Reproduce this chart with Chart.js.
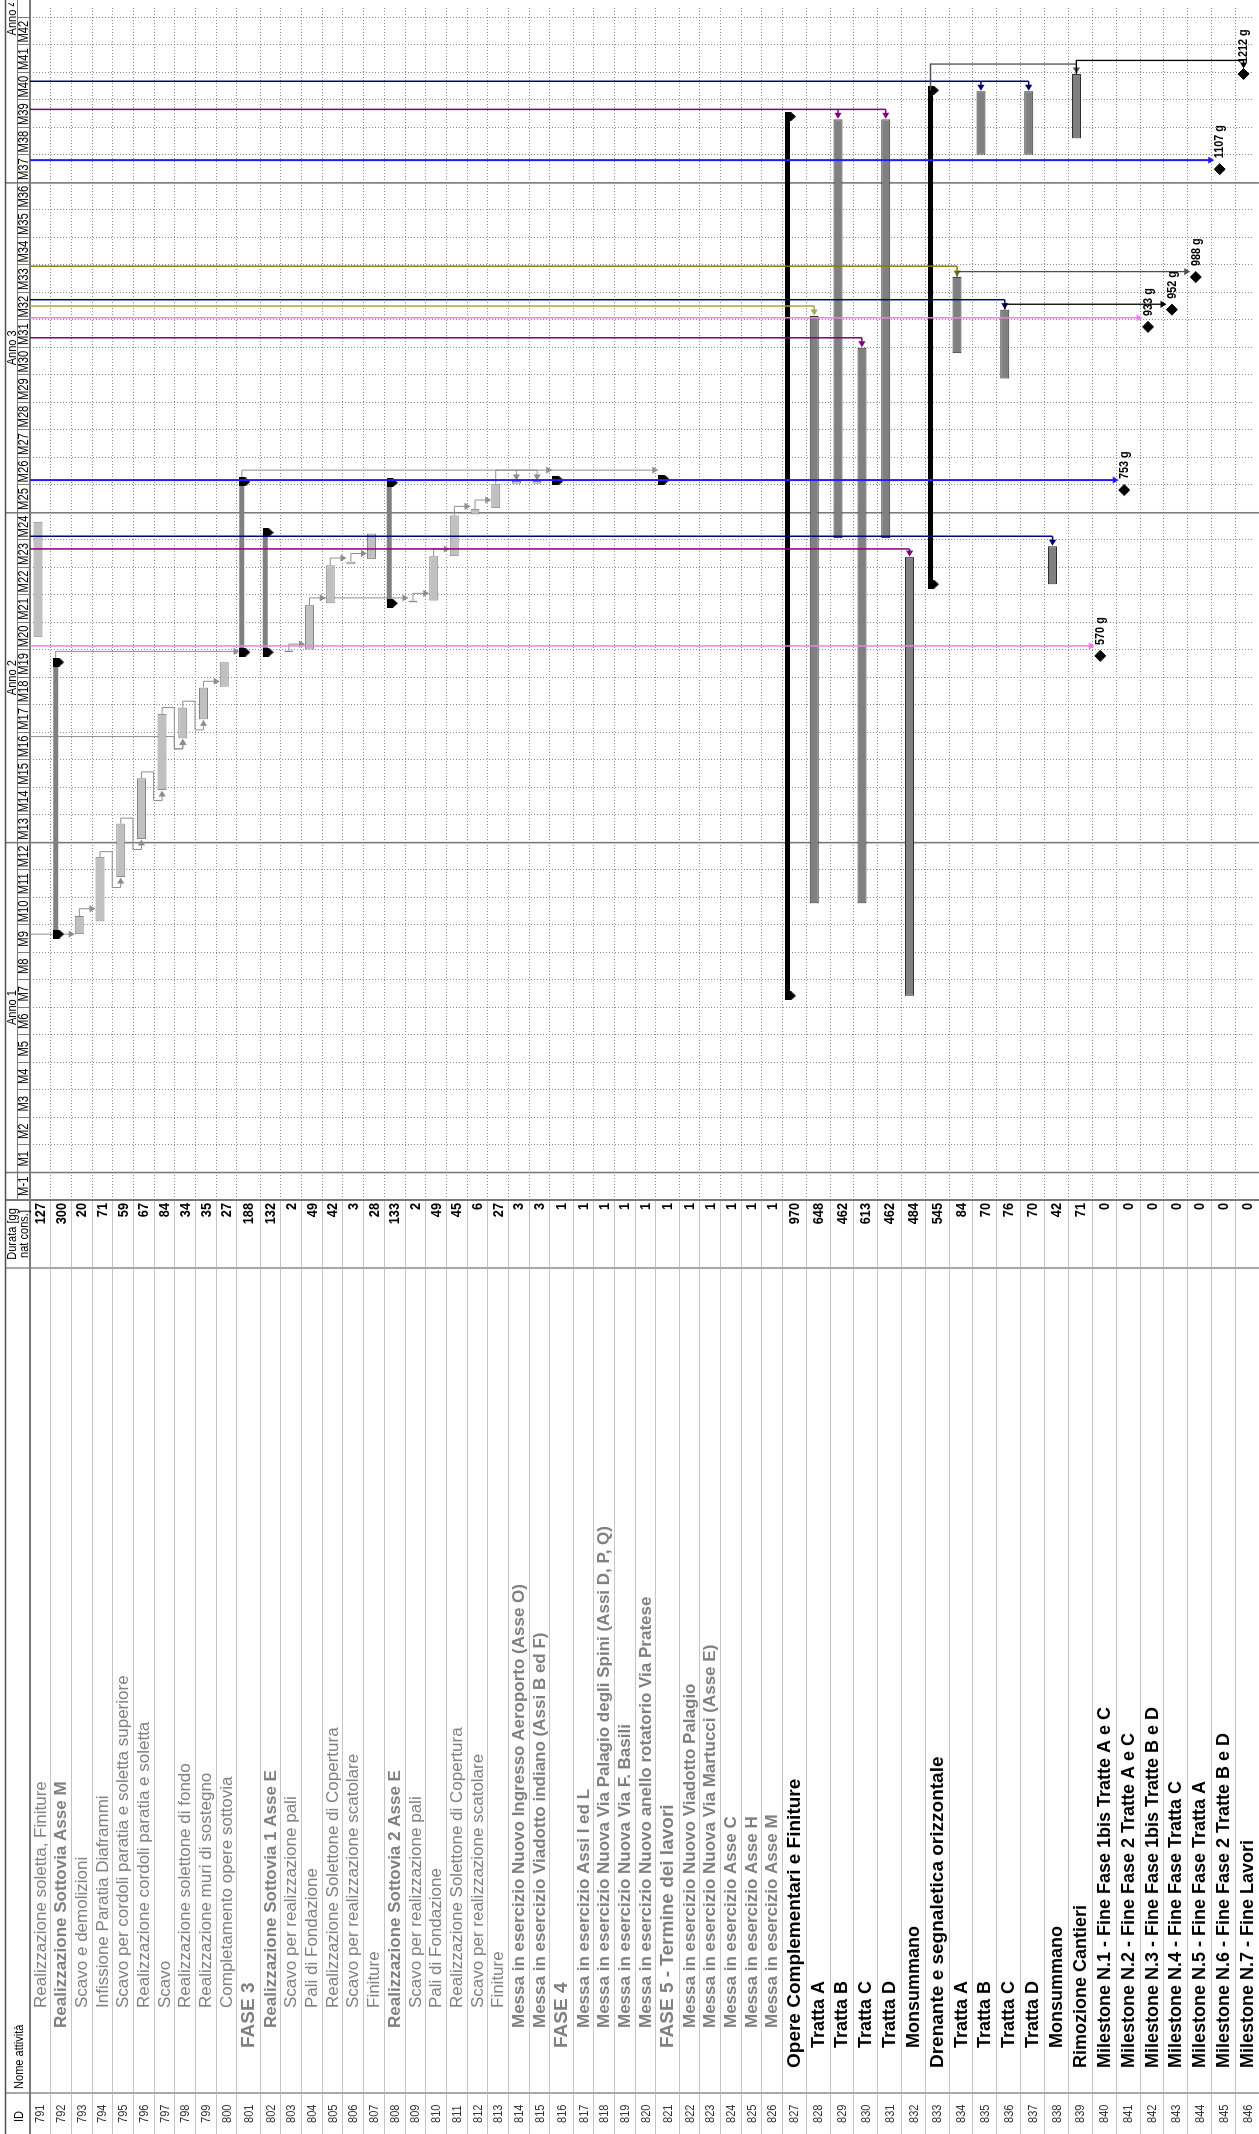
<!DOCTYPE html>
<html>
<head>
<meta charset="utf-8">
<script src="https://cdn.jsdelivr.net/npm/chart.js@4"></script>
<style>
html, body { margin: 0; padding: 0; background: #fff; overflow: hidden; width: 1259px; height: 2134px; }
#wrap { position: absolute; left: 0; top: 0; width: 2134px; height: 1259px;
        transform-origin: 0 0; transform: translate(0, 2134px) rotate(-90deg); }
</style>
</head>
<body>
<div id="wrap"><canvas id="gantt" width="2134" height="1259"></canvas></div>
<script>
// giorni per mese sulla scala dei tempi
const MONTH = 30.33;

const ids = [791, 792, 793, 794, 795, 796, 797, 798, 799, 800,
  801, 802, 803, 804, 805, 806, 807, 808, 809, 810, 811, 812, 813, 814, 815,
  816, 817, 818, 819, 820, 821, 822, 823, 824, 825, 826,
  827, 828, 829, 830, 831, 832, 833, 834, 835, 836, 837, 838, 839,
  840, 841, 842, 843, 844, 845, 846];

const names = [
  "Realizzazione soletta, Finiture",
  "Realizzazione Sottovia Asse M",
  "Scavo e demolizioni",
  "Infissione Paratia Diaframmi",
  "Scavo per cordoli paratia e soletta superiore",
  "Realizzazione cordoli paratia e soletta",
  "Scavo",
  "Realizzazione solettone di fondo",
  "Realizzazione muri di sostegno",
  "Completamento opere sottovia",
  "FASE 3",
  "Realizzazione Sottovia 1 Asse E",
  "Scavo per realizzazione pali",
  "Pali di Fondazione",
  "Realizzazione Solettone di Copertura",
  "Scavo per realizzazione scatolare",
  "Finiture",
  "Realizzazione Sottovia 2 Asse E",
  "Scavo per realizzazione pali",
  "Pali di Fondazione",
  "Realizzazione Solettone di Copertura",
  "Scavo per realizzazione scatolare",
  "Finiture",
  "Messa in esercizio Nuovo Ingresso Aeroporto (Asse O)",
  "Messa in esercizio Viadotto indiano (Assi B ed F)",
  "FASE 4",
  "Messa in esercizio Assi I ed L",
  "Messa in esercizio Nuova Via Palagio degli Spini (Assi D, P, Q)",
  "Messa in esercizio Nuova Via F. Basili",
  "Messa in esercizio Nuovo anello rotatorio Via Pratese",
  "FASE 5 - Termine dei lavori",
  "Messa in esercizio Nuovo Viadotto Palagio",
  "Messa in esercizio Nuova Via Martucci (Asse E)",
  "Messa in esercizio Asse C",
  "Messa in esercizio Asse H",
  "Messa in esercizio Asse M",
  "Opere Complementari e Finiture",
  "Tratta A", "Tratta B", "Tratta C", "Tratta D", "Monsummano",
  "Drenante e segnaletica orizzontale",
  "Tratta A", "Tratta B", "Tratta C", "Tratta D", "Monsummano",
  "Rimozione Cantieri",
  "Milestone N.1 - Fine Fase 1bis Tratte A e C",
  "Milestone N.2 - Fine Fase 2 Tratte A e C",
  "Milestone N.3 - Fine Fase 1bis Tratte B e D",
  "Milestone N.4 - Fine Fase Tratta C",
  "Milestone N.5 - Fine Fase Tratta A",
  "Milestone N.6 - Fine Fase 2 Tratte B e D",
  "Milestone N.7 - Fine Lavori"
];

// durata in giorni naturali consecutivi
const durations = [127, 300, 20, 71, 59, 67, 84, 34, 35, 27,
  188, 132, 2, 49, 42, 3, 28, 133, 2, 49, 45, 6, 27, 3, 3,
  1, 1, 1, 1, 1, 1, 1, 1, 1, 1, 1,
  970, 648, 462, 613, 462, 484, 545, 84, 70, 76, 70, 42, 71,
  0, 0, 0, 0, 0, 0, 0];

// giorno di inizio (giorno 0 = inizio M1)
const starts = [591, 263, 263, 277, 326, 368, 422, 479, 500, 536,
  574, 574, 574, 577, 628, 671, 677, 628, 629, 631, 680, 726, 733, 760, 760,
  763, 763, 763, 763, 763, 764, 764, 764, 764, 764, 764,
  195, 297, 700, 297, 700, 195, 649, 904, 1123, 876, 1123, 649, 1141,
  570, 753, 933, 952, 988, 1107, 1212];

const outline = [4, 3, 4, 4, 4, 4, 4, 4, 4, 4,
  2, 3, 4, 4, 4, 4, 4, 3, 4, 4, 4, 4, 4, 3, 3,
  2, 3, 3, 3, 3, 2, 3, 3, 3, 3, 3,
  1, 2, 2, 2, 2, 2, 1, 2, 2, 2, 2, 2, 1,
  1, 1, 1, 1, 1, 1, 1];

// t = attività, s = riepilogo, m = milestone
const rowKind = ("ts" + "tttttttt" + "ss" + "ttttt" + "s" + "ttttttt" + "s" + "tttt" + "s" +
  "ttttt" + "s" + "ttttt" + "s" + "tttttt" + "mmmmmmm").split("");
// g = grigio, G = grigio grassetto, P = fase, H = riepilogo nero, B = nero grassetto
const rowStyle = ("gG" + "gggggggg" + "PG" + "ggggg" + "G" + "ggggg" + "GG" + "P" + "GGGG" + "P" +
  "GGGGG" + "H" + "BBBBB" + "H" + "BBBBB" + "B" + "BBBBBBB").split("");

const monthLabels = ["M-1"];
for (let m = 1; m <= 42; m++) monthLabels.push("M" + m);
const yearLabels = ["Anno 1", "Anno 2", "Anno 3", "Anno 4"];

// collegamenti: da (0 = fuori vista), a, giorno della linea, tipo
const linkFrom = [0, 793, 794, 795, 796, 797, 798, 799, 0, 792, 803, 804, 805, 806, 809, 810, 811, 812, 813, 801,
  0, 0, 0, 0, 0, 0, 0, 0, 836, 0, 834, 0, 0, 0, 833, 839];
const linkTo = [[793], [794], [795], [796], [797], [798], [799], [800], [798], [801], [804], [805, 809], [806], [807],
  [810], [811], [812], [813], [814, 815], [816, 821],
  [840], [841], [832], [838], [830], [842], [828], [836], [843], [834], [844], [845], [829, 831], [835, 837], [839], [846]];
const linkDay = [263, 291, 354, 391, 442, 513, 520, 542, 481, 575, 583, 634, 678, 683, 639, 688, 735, 742, 775, 775,
  581, 764, 688, 702, 921, 943, 956, 963, 958, 1000, 994, 1117, 1173, 1204, 1223, 1227];
const linkType = ["drop", "drop", "start", "start", "start", "start", "start", "drop", "start", "drop", "drop", "drop",
  "drop", "drop", "drop", "drop", "drop", "drop", "end", "drop",
  "drop", "drop", "end", "end", "end", "drop", "end", "end", "drop", "end", "drop", "drop", "end", "end", "end", "end"];
const linkGroup = ["grey", "grey", "grey", "grey", "grey", "grey", "grey", "grey", "grey", "grey", "grey", "grey",
  "grey", "grey", "grey", "grey", "grey", "grey", "grey", "grey",
  "pink", "blue", "purple", "navy", "purple", "pink", "khaki", "navy", "black", "olive", "dark", "blue",
  "purple", "navy", "dark", "black"];

// ---- stile ----
const FONT = '"Liberation Sans", Arial, sans-serif';
const ROW_H = { g: 20.8, G: 20.8, P: 23.4, H: 23.7, B: 24 };
const TEXT_FONT = { g: "17px", G: "bold 17px", P: "bold 19px", H: "bold 19px", B: "bold 18px" };
const LINK_COL = { grey: "#8e8e8e", pink: "#f07cf0", blue: "#1c1cff", purple: "#800080", navy: "#000080",
  khaki: "#a6a64e", olive: "#808000", black: "#000000", dark: "#505050" };
const LINK_W = { grey: 1, pink: 1.5, blue: 2, purple: 1.5, navy: 1.5, khaki: 1.5, olive: 1.5, black: 1.3, dark: 1.3 };
const LEFT = 934, TOP = 30;
const X_MAX = 1286.5;

const isBlack = i => rowStyle[i] === "H" || rowStyle[i] === "B";

const rowTop = [];
let acc = 29.5;
for (let i = 0; i < ids.length; i++) { rowTop.push(acc); acc += ROW_H[rowStyle[i]]; }
rowTop.push(acc);
const barPos = ids.map((id, i) => rowTop[i] + (rowKind[i] === "s" ? 5.5 : 8.5));
const ends = ids.map((id, i) => starts[i] + durations[i]);

const greyTask = [], darkTask = [], greySum = [], blackSum = [], caps = [], miles = [];
ids.forEach((id, i) => {
  const s = starts[i], e = ends[i];
  if (rowKind[i] === "t") (isBlack(i) ? darkTask : greyTask).push({ x: [s, e], y: barPos[i] });
  else if (rowKind[i] === "s") {
    (isBlack(i) ? blackSum : greySum).push({ x: [s, e], y: barPos[i] });
    caps.push({ x: s, y: rowTop[i] + 8.5 }, { x: e, y: rowTop[i] + 8.5 });
  } else miles.push({ x: s, y: rowTop[i] + 8.5 });
});

function capImage() {
  const c = document.createElement("canvas");
  c.width = 9; c.height = 11;
  const g = c.getContext("2d");
  g.fillStyle = "#000";
  g.beginPath();
  g.moveTo(0, 0); g.lineTo(9, 0); g.lineTo(9, 6); g.lineTo(4.5, 11); g.lineTo(0, 6);
  g.closePath(); g.fill();
  return c;
}

function text(ctx, s, x, y, font, color, align, sx) {
  ctx.save();
  ctx.font = font + " " + FONT;
  ctx.fillStyle = color;
  ctx.textBaseline = "middle";
  ctx.textAlign = align || "left";
  ctx.translate(x, y);
  ctx.scale(sx || 1, 1);
  ctx.fillText(s, 0, 0);
  ctx.restore();
}

function seg(ctx, x1, y1, x2, y2) {
  ctx.beginPath(); ctx.moveTo(x1, y1); ctx.lineTo(x2, y2); ctx.stroke();
}

function arrow(ctx, x, y, dir) {
  const s = 6, w = 3.6;
  ctx.beginPath();
  if (dir === "down") { ctx.moveTo(x - w, y - s); ctx.lineTo(x + w, y - s); }
  else if (dir === "left") { ctx.moveTo(x + s, y - w); ctx.lineTo(x + s, y + w); }
  else { ctx.moveTo(x - s, y - w); ctx.lineTo(x - s, y + w); }
  ctx.lineTo(x, y);
  ctx.closePath(); ctx.fill();
}

function drawLinks(chart, grey) {
  const ctx = chart.ctx, xs = chart.scales.x, ys = chart.scales.y;
  const X = d => xs.getPixelForValue(d), Y = v => ys.getPixelForValue(v);
  const tip = t => {
    if (rowKind[t] === "t") return Y(barPos[t] - 4.5);
    return Y(rowTop[t] + 3);
  };
  ctx.save();
  for (let k = 0; k < linkFrom.length; k++) {
    if ((linkGroup[k] === "grey") !== grey) continue;
    const col = LINK_COL[linkGroup[k]];
    ctx.strokeStyle = col; ctx.fillStyle = col; ctx.lineWidth = LINK_W[linkGroup[k]];
    const uT = X(linkDay[k]);
    const tg = linkTo[k].map(id => ids.indexOf(id));
    const last = tg[tg.length - 1];
    ctx.beginPath();
    if (linkFrom[k]) {
      const p = ids.indexOf(linkFrom[k]);
      ctx.moveTo(X(ends[p]), Y(barPos[p]));
      ctx.lineTo(uT, Y(barPos[p]));
    } else {
      ctx.moveTo(uT, chart.chartArea.top);
    }
    if (linkType[k] === "drop") {
      ctx.lineTo(uT, tip(last) - 5);
      ctx.stroke();
      tg.forEach(t => arrow(ctx, uT, tip(t), "down"));
    } else if (linkType[k] === "end") {
      ctx.lineTo(uT, Y(barPos[last]));
      ctx.stroke();
      tg.forEach(t => {
        const ue = X(ends[t]) + (rowKind[t] === "m" ? 5.5 : 0.5);
        seg(ctx, uT, Y(barPos[t]), ue + 5, Y(barPos[t]));
        arrow(ctx, ue, Y(barPos[t]), "left");
      });
    } else {
      const t = tg[0];
      const us = X(starts[t]) - 0.5, vb = Y(rowTop[t]), vc = Y(barPos[t]);
      ctx.lineTo(uT, vb);
      ctx.lineTo(us - 10, vb);
      ctx.lineTo(us - 10, vc);
      ctx.lineTo(us - 5, vc);
      ctx.stroke();
      arrow(ctx, us, vc, "right");
    }
  }
  ctx.restore();
}

const decor = {
  id: "decor",
  beforeDraw(chart) {
    const ctx = chart.ctx, xs = chart.scales.x, ys = chart.scales.y, a = chart.chartArea;
    const X = d => xs.getPixelForValue(d), Y = v => ys.getPixelForValue(v);
    const W = chart.width, H = chart.height;
    ctx.save();
    ctx.fillStyle = "#fff";
    ctx.fillRect(0, 0, W, H);

    // righe della tabella
    ctx.strokeStyle = "#c4c4c4"; ctx.lineWidth = 1;
    for (let i = 0; i <= ids.length; i++) {
      const v = Math.round(Y(rowTop[i])) + 0.5;
      seg(ctx, 0, v, a.left, v);
    }
    // griglia tratteggiata
    ctx.setLineDash([1, 2]);
    ctx.strokeStyle = "#8a8a8a";
    for (let i = 1; i <= ids.length; i++) {
      const v = Math.round(Y(rowTop[i])) + 0.5;
      seg(ctx, a.left, v, a.right, v);
    }
    for (let k = -1; k <= 43; k++) {
      const u = Math.round(X(k * MONTH)) + 0.5;
      seg(ctx, u, a.top, u, a.bottom);
    }
    ctx.setLineDash([]);
    // separatori anno
    ctx.strokeStyle = "#7a7a7a"; ctx.lineWidth = 1.6;
    for (let y = 0; y < 4; y++) {
      const u = X(12 * y * MONTH);
      seg(ctx, u, 5.5, u, H);
    }
    // colonne
    ctx.strokeStyle = "#a8a8a8"; ctx.lineWidth = 2;
    seg(ctx, 41, 5.5, 41, H);
    seg(ctx, 866, 5.5, 866, H);
    ctx.strokeStyle = "#7a7a7a";
    seg(ctx, LEFT, 5.5, LEFT, H);

    // intestazione
    ctx.strokeStyle = "#505050"; ctx.lineWidth = 1.5;
    seg(ctx, 0, 5.5, W, 5.5);
    ctx.strokeStyle = "#7a7a7a"; ctx.lineWidth = 2;
    seg(ctx, 0, TOP, W, TOP);
    ctx.lineWidth = 1;
    seg(ctx, LEFT, 17.5, W, 17.5);
    for (let k = 0; k <= 43; k++) {
      const u = Math.round(X(k * MONTH)) + 0.5;
      seg(ctx, u, 17.5, u, TOP);
    }
    text(ctx, "ID", 12, 19, "13px", "#000", "left", 0.85);
    text(ctx, "Nome attività", 45, 19, "13px", "#000", "left", 0.85);
    text(ctx, "Durata [gg", 900, 12, "13px", "#000", "center", 0.85);
    text(ctx, "nat cons.]", 900, 24, "13px", "#000", "center", 0.85);
    for (let k = -1; k < 42; k++) {
      text(ctx, monthLabels[k + 1], X((k + 0.5) * MONTH), 24.5, "14px", "#000", "center", 0.8);
    }
    ctx.save();
    ctx.beginPath();
    ctx.rect(LEFT, 6, 2131 - LEFT, 11);
    ctx.clip();
    yearLabels.forEach((lab, y) => {
      text(ctx, lab, X((12 * y + 6) * MONTH), 12, "13px", "#000", "center", 0.85);
    });
    ctx.restore();
    ctx.restore();
  },
  beforeDatasetsDraw(chart) {
    drawLinks(chart, true);
  },
  afterDatasetsDraw(chart) {
    drawLinks(chart, false);
    const ctx = chart.ctx, xs = chart.scales.x, ys = chart.scales.y;
    const X = d => xs.getPixelForValue(d), Y = v => ys.getPixelForValue(v);
    // etichette milestone
    ids.forEach((id, i) => {
      if (rowKind[i] !== "m") return;
      text(ctx, starts[i] + " g", X(starts[i]) + 11, Y(rowTop[i] + 8.5) + 0.5, "bold 12px", "#000", "left", 0.9);
    });
    // colonne testo
    ids.forEach((id, i) => {
      const vc = Y((rowTop[i] + rowTop[i + 1]) / 2) + 1;
      const col = isBlack(i) ? "#000" : "#808080";
      text(ctx, String(id), 11, vc, "13px", "#333", "left", 0.85);
      text(ctx, names[i], 46 + 20 * outline[i], vc, TEXT_FONT[rowStyle[i]], col, "left", 1);
      text(ctx, String(durations[i]), 931, vc, "bold 15px", "#000", "right", 0.85);
    });
  }
};

const capImg = capImage();

new Chart(document.getElementById("gantt"), {
  type: "bar",
  data: {
    datasets: [
      { type: "scatter", data: miles, pointStyle: "rectRot", pointRadius: 5.5,
        backgroundColor: "#000", borderColor: "#000", borderWidth: 1, order: 0 },
      { type: "scatter", data: caps, pointStyle: capImg, pointRadius: 5, order: 0 },
      { data: greyTask, grouped: false, maxBarThickness: 9, backgroundColor: "#c0c0c0",
        borderColor: "#858585", borderWidth: 1, borderSkipped: false, order: 1 },
      { data: darkTask, grouped: false, maxBarThickness: 9, backgroundColor: "#808080",
        borderColor: "#303030", borderWidth: 1, borderSkipped: false, order: 1 },
      { data: greySum, grouped: false, maxBarThickness: 5, backgroundColor: "#808080",
        borderWidth: 0, order: 1 },
      { data: blackSum, grouped: false, maxBarThickness: 5, backgroundColor: "#000",
        borderWidth: 0, order: 1 }
    ]
  },
  options: {
    indexAxis: "y",
    responsive: false,
    animation: false,
    devicePixelRatio: 1,
    layout: { padding: { left: LEFT, top: TOP, right: 0, bottom: 0 } },
    plugins: { legend: { display: false }, tooltip: { enabled: false } },
    scales: {
      x: { type: "linear", min: -MONTH, max: X_MAX, display: false },
      y: { type: "linear", min: TOP, max: 1259, reverse: true, display: false,
           offset: false, beginAtZero: false, grid: { offset: false } }
    }
  },
  plugins: [decor]
});
</script>
</body>
</html>
